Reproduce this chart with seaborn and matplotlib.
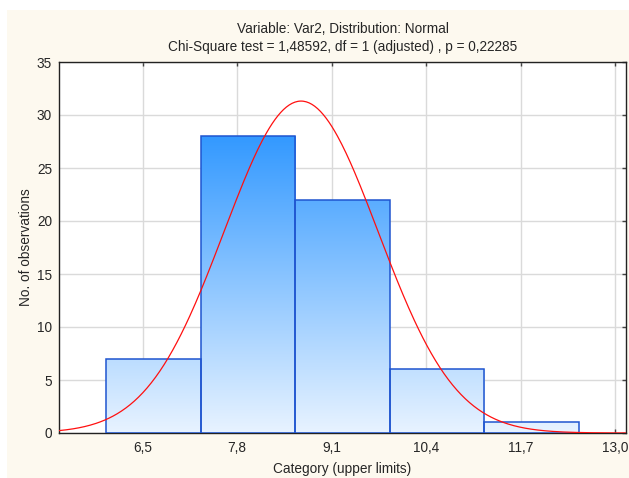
import numpy as np
import pandas as pd
import matplotlib
matplotlib.use('Agg')
import matplotlib.pyplot as plt
from matplotlib.colors import LinearSegmentedColormap
from matplotlib.patches import Rectangle
import seaborn as sns

# data
bin_edges = [6.0, 7.3, 8.6, 9.9, 11.2, 12.5]
counts = [7, 28, 22, 6, 1]
tick_pos = [6.5, 7.8, 9.1, 10.4, 11.7, 13.0]
tick_labels = ['6,5', '7,8', '9,1', '10,4', '11,7', '13,0']
y_ticks = [0, 5, 10, 15, 20, 25, 30, 35]
# fitted normal curve parameters
fit_mean = 8.68
fit_sd = 1.06

title = 'Variable: Var2, Distribution: Normal\nChi-Square test = 1,48592, df = 1 (adjusted) , p = 0,22285'

#####################################
sns.set_style('white')
plt.rcParams['font.family'] = ['Liberation Sans', 'DejaVu Sans']
fs = 9.8

fig = plt.figure(figsize=(6.29, 4.78), dpi=100, facecolor='white')
fig.patches.append(Rectangle((7 / 629, 0), 1, 1 - 10 / 478, transform=fig.transFigure,
                             facecolor='#fdf9ef', edgecolor='none', zorder=-10))
ax = fig.add_axes([59 / 629, 45 / 478, 567 / 629, 371 / 478])
ax.set_facecolor('white')

centers = [(a + b) / 2 for a, b in zip(bin_edges[:-1], bin_edges[1:])]
df = pd.DataFrame({'center': centers, 'count': counts})
sns.histplot(data=df, x='center', weights='count', bins=bin_edges, ax=ax,
             facecolor='none', edgecolor='#1f55d0', linewidth=1.1, alpha=1, zorder=3)

# gradient fill for each bar (colour set by height)
cmap = LinearSegmentedColormap.from_list('blu', ['#e8f3ff', '#3399ff'])
top = max(counts)
grad = np.linspace(0, 1, 256).reshape(-1, 1)
for p in ax.patches:
    x0, w, h = p.get_x(), p.get_width(), p.get_height()
    im = ax.imshow(grad, cmap=cmap, vmin=0, vmax=1, origin='lower', aspect='auto',
                   extent=[x0, x0 + w, 0, top], zorder=2)
    im.set_clip_path(p)

n = sum(counts)
bw = bin_edges[1] - bin_edges[0]
xs = np.linspace(5.35, 13.15, 400)
ys = n * bw * np.exp(-0.5 * ((xs - fit_mean) / fit_sd) ** 2) / (fit_sd * np.sqrt(2 * np.pi))
sns.lineplot(x=xs, y=ys, color='#ff1010', linewidth=0.9, ax=ax, zorder=4)

ax.set_xlim(5.35, 13.15)
ax.set_ylim(0, 35)
ax.set_xticks(tick_pos)
ax.set_xticklabels(tick_labels)
ax.set_yticks(y_ticks)
ax.grid(True, color='#dadada', linewidth=1)
ax.set_axisbelow(True)
for s in ax.spines.values():
    s.set_color('#222222')
    s.set_linewidth(1)
ax.tick_params(direction='in', length=3, width=1, color='#444444', pad=6,
               top=True, right=True, left=False, bottom=True, labelsize=fs)
ax.tick_params(axis='y', pad=5)

ax.set_title(title, fontsize=fs, pad=8, linespacing=1.35)
ax.set_xlabel('Category (upper limits)', fontsize=fs, labelpad=5)
ax.set_ylabel('No. of observations', fontsize=fs, labelpad=3)

fig.savefig('out.png', dpi=100)
